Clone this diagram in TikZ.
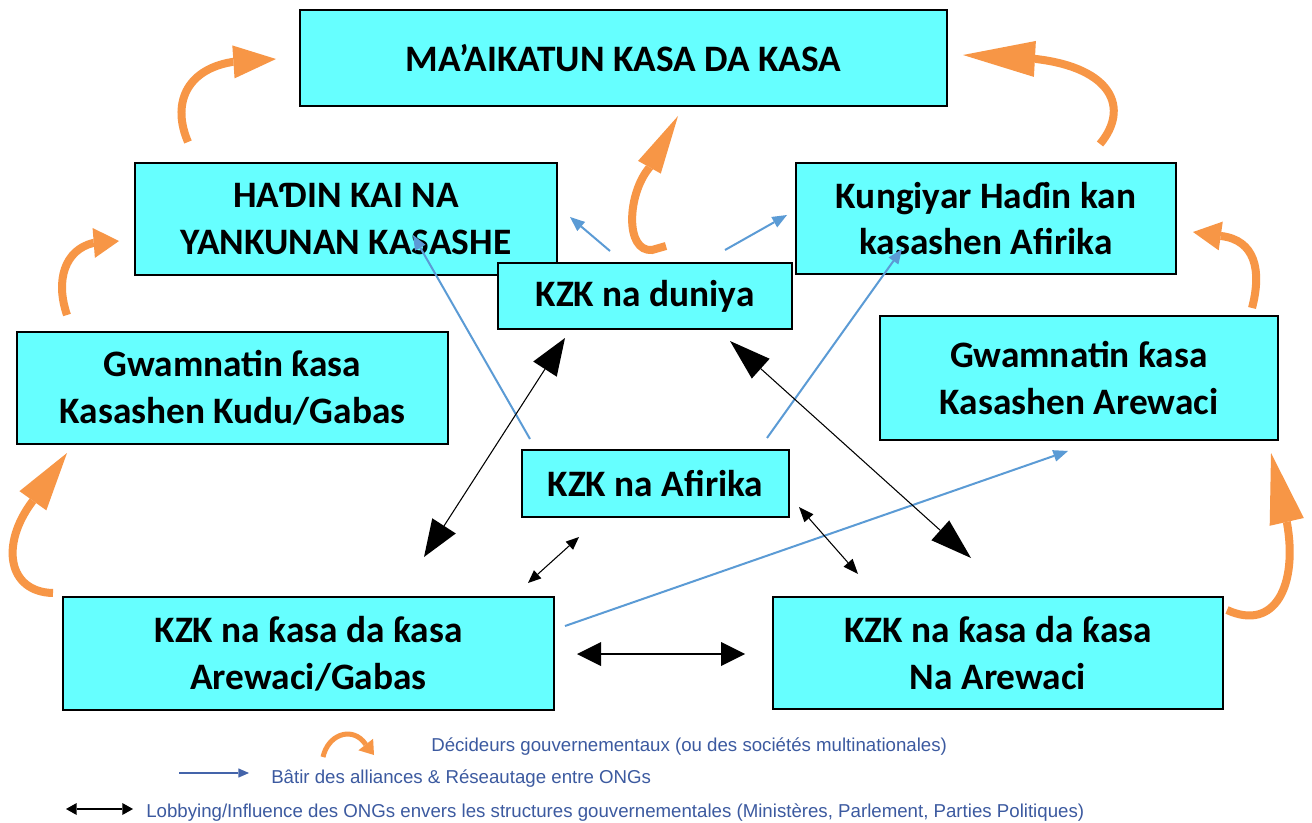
\documentclass[tikz,border=0pt]{standalone}
\usepackage{fontspec}
\setmainfont{Carlito}
\newfontfamily\legendfont{Liberation Sans}
\usetikzlibrary{arrows.meta,shadows}
\definecolor{boxcyan}{RGB}{102,255,255}
\definecolor{orangearr}{RGB}{247,150,70}
\definecolor{bluearr}{RGB}{91,155,213}
\definecolor{legblue}{RGB}{68,100,170}
\definecolor{legtext}{RGB}{60,90,160}
\begin{document}
\begin{tikzpicture}[x=0.75pt,y=-0.75pt,
  box/.style={draw=black, line width=1.1pt, fill=boxcyan, align=center, inner sep=0pt,
    font=\fontsize{28}{35}\selectfont\bfseries,
    general shadow={fill=black!45, shadow xshift=1.1pt, shadow yshift=-1.1pt}},
  orangearrow/.style={draw=orangearr, line width=6pt},
  bluearrow/.style={draw=bluearr, line width=1.5pt, -{Triangle[length=11pt,width=9pt,line width=0pt]}},
  blackarrow/.style={draw=black, line width=0.8pt},
  legendtext/.style={anchor=west, inner sep=0pt, text=legtext, font=\legendfont\fontsize{14}{16}\selectfont}
]
\useasboundingbox (0,0) rectangle (1312,823);
\fill[white] (0,0) rectangle (1312,823);

% boxes
\node[box, minimum width=485.25pt, minimum height=72pt] (top) at (623.5,58) {MA’AIKATUN KASA DA KASA};
\node[box, minimum width=316.5pt, minimum height=84pt] (hadin) at (346,219) {HAƊIN KAI NA\\YANKUNAN KASASHE};
\node[box, minimum width=285pt, minimum height=83.25pt] (kungiyar) at (986,218.5) {Kungiyar Haɗin kan\\kasashen Afirika};
\node[box, minimum width=220.5pt, minimum height=49.5pt] (duniya) at (645,296) {KZK na duniya};
\node[box, minimum width=323.25pt, minimum height=84pt] (gwamkg) at (232.5,388) {Gwamnatin ƙasa\\Kasashen Kudu/Gabas};
\node[box, minimum width=298.5pt, minimum height=93pt] (gwama) at (1079,378) {Gwamnatin ƙasa\\Kasashen Arewaci};
\node[box, minimum width=200.25pt, minimum height=50.25pt] (afirika) at (655.5,483.5) {KZK na Afirika};
\node[box, minimum width=368.25pt, minimum height=84.75pt] (kzkag) at (308.5,653.5) {KZK na ƙasa da ƙasa\\Arewaci/Gabas};
\node[box, minimum width=337.5pt, minimum height=84pt] (kzkna) at (998,653) {KZK na ƙasa da ƙasa\\Na Arewaci};

% orange arrows (decision makers)
\coordinate (o1s) at (188,142); \coordinate (o1b) at (232,62); \coordinate (o1t) at (276,59);
\draw[orangearrow, -{Triangle[length=32pt,width=24.75pt,line width=0pt]}]
  (o1s) .. controls (172,105) and (185,70) .. (o1b) -- (o1t);
\coordinate (o2s) at (67,315); \coordinate (o2b) at (93,243); \coordinate (o2t) at (119,241);
\draw[orangearrow, -{Triangle[length=19pt,width=22.5pt,line width=0pt]}]
  (o2s) .. controls (55,280) and (65,250) .. (o2b) -- (o2t);
\coordinate (o3s) at (53,593); \coordinate (o3b) at (32,502); \coordinate (o3t) at (67,453);
\draw[orangearrow, -{Triangle[length=44pt,width=24.75pt,line width=0pt]}]
  (o3s) .. controls (8,592) and (0,545) .. (o3b) -- (o3t);
\coordinate (o4s) at (666,246); \coordinate (o4m) at (652,250); \coordinate (o4b) at (649,168); \coordinate (o4t) at (678,116);
\draw[orangearrow, -{Triangle[length=44pt,width=19.5pt,line width=0pt]}]
  (o4s) -- (o4m) .. controls (625,252) and (627,195) .. (o4b) -- (o4t);
\coordinate (o5s) at (1100,144); \coordinate (o5b) at (1036,59); \coordinate (o5t) at (963,55);
\draw[orangearrow, -{Triangle[length=54pt,width=27pt,line width=0pt]}]
  (o5s) .. controls (1130,108) and (1112,68) .. (o5b) -- (o5t);
\coordinate (o6s) at (1252,308); \coordinate (o6b) at (1221,236); \coordinate (o6t) at (1193,232);
\draw[orangearrow, -{Triangle[length=21pt,width=21.75pt,line width=0pt]}]
  (o6s) .. controls (1262,270) and (1255,240) .. (o6b) -- (o6t);
\coordinate (o7s) at (1227,610); \coordinate (o7b) at (1287,523); \coordinate (o7t) at (1271,453);
\draw[orangearrow, -{Triangle[length=53pt,width=26.25pt,line width=0pt]}]
  (o7s) .. controls (1275,632) and (1298,585) .. (o7b) -- (o7t);

% blue arrows (alliances)
\coordinate (b1s) at (530,439); \coordinate (b1t) at (413,235);
\draw[bluearrow] (b1s) -- (b1t);
\coordinate (b2s) at (767,438); \coordinate (b2t) at (902,249);
\draw[bluearrow] (b2s) -- (b2t);
\coordinate (b3s) at (610,251); \coordinate (b3t) at (570,217);
\draw[bluearrow] (b3s) -- (b3t);
\coordinate (b4s) at (725,250); \coordinate (b4t) at (787,215);
\draw[bluearrow] (b4s) -- (b4t);
\coordinate (b5s) at (565,626); \coordinate (b5t) at (1068,451);
\draw[bluearrow] (b5s) -- (b5t);

% black arrows (lobbying)
\coordinate (k1a) at (565,338); \coordinate (k1b) at (424,557);
\draw[blackarrow, {Triangle[length=27.75pt,width=21pt,line width=0pt]}-{Triangle[length=27.75pt,width=21pt,line width=0pt]}] (k1a) -- (k1b);
\coordinate (k2a) at (730,341); \coordinate (k2b) at (971,558);
\draw[blackarrow, {Triangle[length=31pt,width=20pt,line width=0pt]}-{Triangle[length=31pt,width=20pt,line width=0pt]}] (k2a) -- (k2b);
\coordinate (k3a) at (579,537); \coordinate (k3b) at (528,583);
\draw[blackarrow, {Triangle[length=9.75pt,width=8.25pt,line width=0pt]}-{Triangle[length=9.75pt,width=8.25pt,line width=0pt]}] (k3a) -- (k3b);
\coordinate (k4a) at (799,507); \coordinate (k4b) at (858,574);
\draw[blackarrow, {Triangle[length=11.25pt,width=9pt,line width=0pt]}-{Triangle[length=11.25pt,width=9pt,line width=0pt]}] (k4a) -- (k4b);
\coordinate (k5a) at (577,654); \coordinate (k5b) at (745,654);
\draw[blackarrow, {Triangle[length=18pt,width=18pt,line width=0pt]}-{Triangle[length=18pt,width=18pt,line width=0pt]}] (k5a) -- (k5b);

% legend
\coordinate (l1s) at (323,757); \coordinate (l1b) at (363,741); \coordinate (l1t) at (374,755);
\draw[draw=orangearr, line width=3.75pt, -{Triangle[length=10pt,width=14pt,line width=0pt]}]
  (l1s) .. controls (328,735) and (350,727) .. (l1b) -- (l1t);
\node[legendtext] (leg1) at (431,747) {Décideurs gouvernementaux (ou des sociétés multinationales)};
\coordinate (l2s) at (179,773); \coordinate (l2t) at (249,773);
\draw[draw=legblue, line width=1.2pt, -{Triangle[length=8pt,width=7pt,line width=0pt]}] (l2s) -- (l2t);
\node[legendtext] (leg2) at (271,779) {Bâtir des alliances \& Réseautage entre ONGs};
\coordinate (l3s) at (66,809); \coordinate (l3t) at (133,809);
\draw[draw=black, line width=1.3pt, {Triangle[length=8pt,width=9pt,line width=0pt]}-{Triangle[length=8pt,width=9pt,line width=0pt]}] (l3s) -- (l3t);
\node[legendtext] (leg3) at (146,813) {Lobbying/Influence des ONGs envers les structures gouvernementales (Ministères, Parlement, Parties Politiques)};
\end{tikzpicture}
\end{document}
